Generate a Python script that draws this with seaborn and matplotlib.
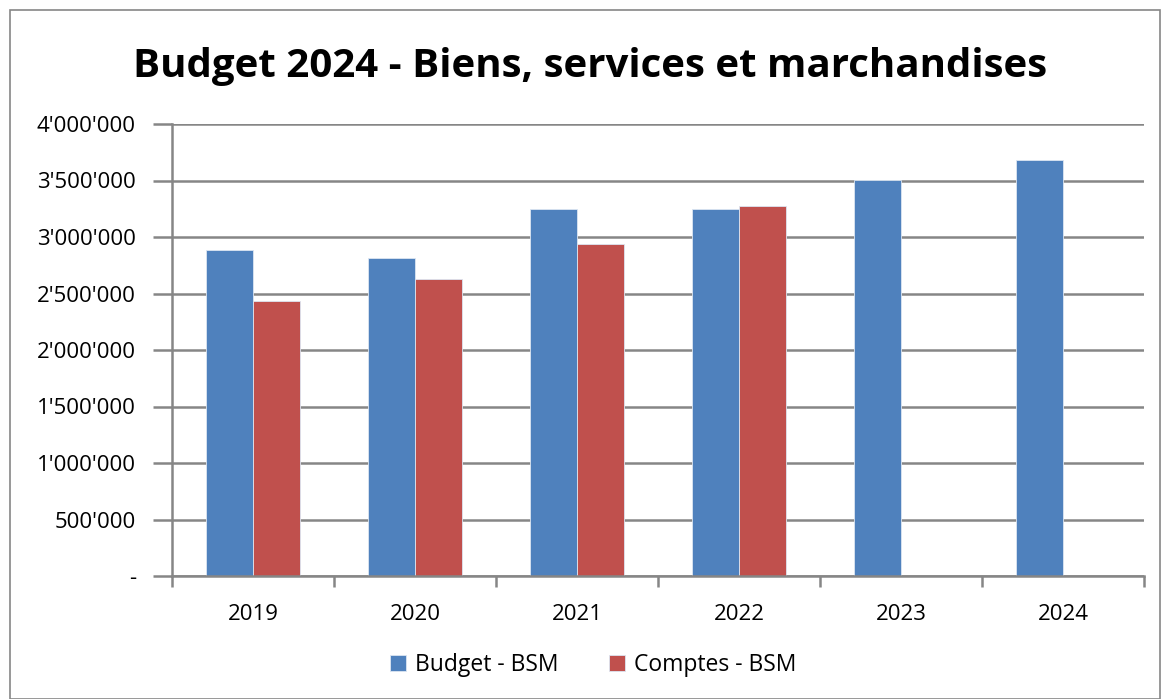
import numpy as np
import pandas as pd
import matplotlib.pyplot as plt
import seaborn as sns
from matplotlib.patches import Rectangle
from matplotlib.ticker import FuncFormatter

years = ["2019", "2020", "2021", "2022", "2023", "2024"]
budget = [2882000, 2811000, 3245000, 3252000, 3505000, 3680000]
comptes = [2435000, 2630000, 2935000, 3272000, np.nan, np.nan]
series = ["Budget - BSM", "Comptes - BSM"]
colors = ["#4F81BD", "#C0504D"]

df = pd.DataFrame({
    "year": years * 2,
    "value": budget + comptes,
    "serie": [series[0]] * len(years) + [series[1]] * len(years),
})

sns.set_theme(style="white")
plt.rcParams["font.family"] = ["Open Sans", "DejaVu Sans"]
plt.rcParams["text.color"] = "black"
plt.rcParams["xtick.color"] = "black"
plt.rcParams["ytick.color"] = "black"

fig = plt.figure(figsize=(11.63, 6.99), dpi=100)
ax = fig.add_axes([172 / 1163, 1 - 576 / 699, 972 / 1163, 452 / 699])

sns.barplot(data=df, x="year", y="value", hue="serie", palette=colors,
            width=0.575, saturation=1, ax=ax, edgecolor="#dce6f2", linewidth=0.6,
            legend=True)

ax.set_xlim(-0.5, 5.5)
ax.set_ylim(0, 4000000)
ax.set_yticks(np.arange(0, 4000001, 500000))
ax.yaxis.set_major_formatter(FuncFormatter(
    lambda v, p: "-" if v == 0 else f"{int(v):,}".replace(",", "'")))
ax.yaxis.grid(True, color="#868686", linewidth=1.8)
ax.set_axisbelow(True)
ax.set_xlabel("")
ax.set_ylabel("")

for s in ["top", "right"]:
    ax.spines[s].set_visible(False)
for s in ["left", "bottom"]:
    ax.spines[s].set_color("#868686")
    ax.spines[s].set_linewidth(1.8)

ax.tick_params(axis="y", left=True, length=14, width=1.8, color="#868686",
               labelsize=16, pad=12, labelcolor="black")
ax.set_xticks(range(len(years)))
ax.set_xticklabels(years)
ax.tick_params(axis="x", bottom=False, labelsize=16, pad=14, labelcolor="black")
# category boundary ticks
ax.set_xticks(np.arange(-0.5, 6, 1), minor=True)
ax.tick_params(axis="x", which="minor", bottom=True, length=8, width=1.8,
               color="#868686")

fig.text(0.507, 1 - 66 / 699, "Budget 2024 - Biens, services et marchandises",
         ha="center", va="center", fontsize=29, fontweight="bold", color="black")

leg = ax.legend(loc="center", bbox_to_anchor=(0.51, 1 - 665 / 699),
                bbox_transform=fig.transFigure, ncol=2, frameon=False,
                fontsize=16.5, handlelength=0.7, handleheight=0.7,
                columnspacing=2.2, handletextpad=0.4)

fig.patches.append(Rectangle((10 / 1163, 0), 1150 / 1163, 1 - 10 / 699,
                             transform=fig.transFigure, fill=False,
                             edgecolor="#868686", linewidth=1.2))

fig.savefig("out.png", dpi=100)
